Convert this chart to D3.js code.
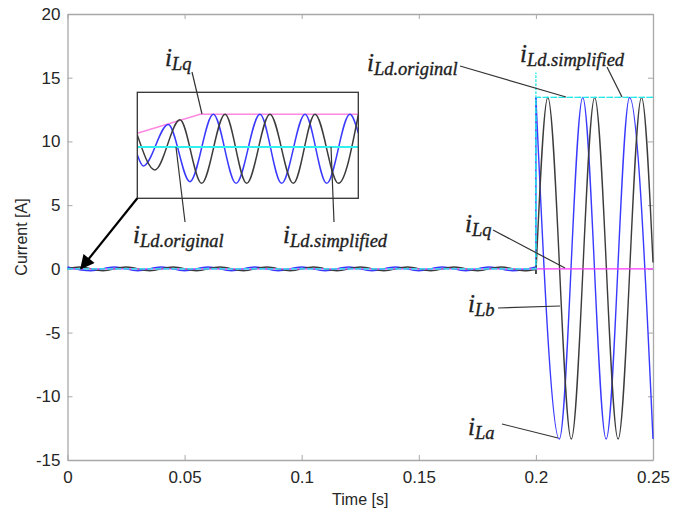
<!DOCTYPE html>
<html><head><meta charset="utf-8">
<script src="https://cdn.jsdelivr.net/npm/d3@7"></script>
<style>body{margin:0;background:#fff}</style>
</head><body><svg id="c" width="673" height="516"></svg>
<script>
// ---------- data ----------
const xTicks=[0,0.05,0.1,0.15,0.2,0.25];
const xTickLabels=["0","0.05","0.1","0.15","0.2","0.25"];
const yTicks=[-15,-10,-5,0,5,10,15,20];
const yTickLabels=["-15","-10","-5","0","5","10","15","20"];

// i_La (blue): small ripple before the step (extrema), then large wave
const aPreT=[0,0.01,0.02,0.03,0.04,0.05,0.06,0.07,0.08,0.09,0.10,0.11,0.12,0.13,0.14,0.15,0.16,0.17,0.18,0.19,0.2];
const aPreV=[0.15,-0.15,0.15,-0.15,0.15,-0.15,0.15,-0.15,0.15,-0.15,0.15,-0.15,0.15,-0.15,0.15,-0.15,0.15,-0.15,0.15,-0.15,0.15];
const aPostT=[0.2,0.21,0.22,0.23,0.24,0.25];
const aPostV=[13.45,-13.35,13.45,-13.35,13.45,-13.35];
// i_Lb (black)
const bPreT=[0,0.0051,0.0151,0.0251,0.0351,0.0451,0.0551,0.0651,0.0751,0.0851,0.0951,0.1051,0.1151,0.1251,0.1351,0.1451,0.1551,0.1651,0.1751,0.1851,0.1951,0.2];
const bPreV=[0,0.15,-0.15,0.15,-0.15,0.15,-0.15,0.15,-0.15,0.15,-0.15,0.15,-0.15,0.15,-0.15,0.15,-0.15,0.15,-0.15,0.15,-0.15,-0.05];
const bPostT=[0.2,0.2051,0.2151,0.2251,0.2351,0.2451,0.25];
const bPostV=[-0.4,13.45,-13.35,13.45,-13.35,13.45,0.5];
// i_Lq (magenta)
const qT=[0,0.2,0.25];
const qV=[0,0,0];
// i_Ld.original / i_Ld.simplified (cyan step)
const dOrigT=[0,0.2,0.2,0.2,0.25];
const dOrigV=[0,0,15.4,13.45,13.45];
const dSimpT=[0,0.2,0.2,0.25];
const dSimpV=[0,0,13.45,13.45];

// inset (zoomed view, arbitrary units)
const inAT=[0,2.7,14.0,23.8,34.4,44.7,55.5,65.3,75.9,85.7,96.2,100];
const inAV=[-0.24,-0.58,0.69,-1.06,1.0,-1.11,1.0,-1.11,1.0,-1.11,1.0,0.43];
const inBT=[0,8.0,19.3,29.1,39.7,49.5,60.0,70.6,80.4,91.0,100];
const inBV=[0.37,-0.70,0.83,-1.11,1.0,-1.11,1.0,-1.11,1.0,-1.11,0.98];
const inQT=[0,28.4,100];
const inQV=[0.42,1.0,1.0];
const inDT=[0,100];
const inDV=[0,0];

// ---------- drawing ----------
const svg=d3.select("#c");
const X0=67.5,X1=653,Y0=14,Y1=460;
const x=d3.scaleLinear().domain([0,0.25]).range([X0,X1]);
const y=d3.scaleLinear().domain([-15,20]).range([Y1,Y0]);
const zip=(T,V)=>T.map((t,i)=>[t,V[i]]);

const axisCol="#a8a8a8", txtCol="#262626";
const font="'Liberation Sans', Arial, sans-serif";

// axes box
const gx=svg.append("g").attr("transform",`translate(0,${Y1})`)
 .call(d3.axisBottom(x).tickValues(xTicks).tickFormat((d,i)=>xTickLabels[i]).tickSizeInner(-5).tickSizeOuter(0).tickPadding(11));
const gxt=svg.append("g").attr("transform",`translate(0,${Y0})`)
 .call(d3.axisTop(x).tickValues(xTicks).tickFormat("").tickSizeInner(-5).tickSizeOuter(0));
const gy=svg.append("g").attr("transform",`translate(${X0},0)`)
 .call(d3.axisLeft(y).tickValues(yTicks).tickFormat((d,i)=>yTickLabels[i]).tickSizeInner(-5).tickSizeOuter(0).tickPadding(7));
const gyr=svg.append("g").attr("transform",`translate(${X1},0)`)
 .call(d3.axisRight(y).tickValues(yTicks).tickFormat("").tickSizeInner(-5).tickSizeOuter(0));
[gx,gxt,gy,gyr].forEach(g=>{
  g.selectAll(".domain").attr("stroke",axisCol).attr("stroke-width",1.3);
  g.selectAll(".tick line").attr("stroke",axisCol).attr("stroke-width",1);
  g.selectAll(".tick text").attr("fill",txtCol).attr("font-size",17).attr("font-family",font);
});

svg.append("text").attr("x",(X0+X1)/2).attr("y",505).attr("text-anchor","middle")
 .attr("font-family",font).attr("font-size",16).attr("fill",txtCol).text("Time [s]");
svg.append("text").attr("transform",`translate(27,${(Y0+Y1)/2}) rotate(-90)`).attr("text-anchor","middle")
 .attr("font-family",font).attr("font-size",16).attr("fill",txtCol).text("Current [A]");

const lineM=d3.line().x(d=>x(d[0])).y(d=>y(d[1])).curve(d3.curveMonotoneX);
const lineL=d3.line().x(d=>x(d[0])).y(d=>y(d[1]));

const blue="#3a3aff", black="#3c3c3c", pink="#ff33ff", cyan="#22e8e8";
function wave(preT,preV,postT,postV,col){
  const pre=zip(preT,preV), post=zip(postT,postV);
  svg.append("path").attr("d",lineM(pre)).attr("fill","none").attr("stroke",col).attr("stroke-width",1.4);
  svg.append("path").attr("d",lineL([pre[pre.length-1],post[0]])).attr("fill","none").attr("stroke",col).attr("stroke-width",1.4);
  svg.append("path").attr("d",lineM(post)).attr("fill","none").attr("stroke",col).attr("stroke-width",1.4);
}
wave(aPreT,aPreV,aPostT,aPostV,blue);
wave(bPreT,bPreV,bPostT,bPostV,black);
svg.append("path").attr("d",lineL(zip(qT,qV))).attr("fill","none").attr("stroke",pink).attr("stroke-width",1.1);
svg.append("path").attr("d",lineL(zip(dOrigT,dOrigV))).attr("fill","none").attr("stroke",cyan).attr("stroke-width",1.3).attr("stroke-dasharray","2,2");
svg.append("path").attr("d",lineL(zip(dSimpT,dSimpV))).attr("fill","none").attr("stroke",cyan).attr("stroke-width",1.3).attr("stroke-dasharray","5,3");

// inset
const IX0=137.3,IX1=358.3,IY0=92.3,IY1=198.3;
const ix=d3.scaleLinear().domain([0,100]).range([IX0,IX1]);
const iy=d3.scaleLinear().domain([-1.569,1.673]).range([IY1,IY0]);
const ilM=d3.line().x(d=>ix(d[0])).y(d=>iy(d[1])).curve(d3.curveMonotoneX);
const ilL=d3.line().x(d=>ix(d[0])).y(d=>iy(d[1]));
svg.append("clipPath").attr("id","ic").append("rect").attr("x",IX0).attr("y",IY0).attr("width",IX1-IX0).attr("height",IY1-IY0);
svg.append("rect").attr("x",IX0).attr("y",IY0).attr("width",IX1-IX0).attr("height",IY1-IY0).attr("fill","#fff");
const ig=svg.append("g").attr("clip-path","url(#ic)");
ig.append("path").attr("d",ilL(zip(inQT,inQV))).attr("fill","none").attr("stroke","#ff88e0").attr("stroke-width",1.6);
ig.append("path").attr("d",ilM(zip(inAT,inAV))).attr("fill","none").attr("stroke",blue).attr("stroke-width",1.5);
ig.append("path").attr("d",ilM(zip(inBT,inBV))).attr("fill","none").attr("stroke",black).attr("stroke-width",1.5);
ig.append("path").attr("d",ilL(zip(inDT,inDV))).attr("fill","none").attr("stroke","#33f0f0").attr("stroke-width",1.8);
svg.append("rect").attr("x",IX0).attr("y",IY0).attr("width",IX1-IX0).attr("height",IY1-IY0).attr("fill","none").attr("stroke","#333").attr("stroke-width",1.3);

// arrow from inset corner to origin region
svg.append("defs").append("marker").attr("id","ah").attr("viewBox","0 0 10 10").attr("refX",9).attr("refY",5)
 .attr("markerWidth",7).attr("markerHeight",6.5).attr("orient","auto").attr("markerUnits","strokeWidth")
 .append("path").attr("d","M0,0L10,5L0,10Z").attr("fill","#000");
svg.append("line").attr("x1",IX0).attr("y1",IY1).attr("x2",81).attr("y2",268.5).attr("stroke","#000").attr("stroke-width",2.2).attr("marker-end","url(#ah)");

// annotations
const serif="'Liberation Serif','Times New Roman',serif";
const notes=[
 {sub:"Lq",x:165,y:66,l:[192,72,202,114]},
 {sub:"Ld.original",x:133,y:243,l:[176,147,185,222]},
 {sub:"Ld.simplified",x:283,y:243,l:[331,147,334,222]},
 {sub:"Ld.original",x:367,y:71,l:[460,66,566,97]},
 {sub:"Ld.simplified",x:520,y:62,l:[607,67,622,97]},
 {sub:"Lq",x:465,y:232,l:[493,230,565,268]},
 {sub:"Lb",x:468,y:312,l:[498,308,560,306]},
 {sub:"La",x:468,y:435,l:[502,424,558,438]}
];
notes.forEach(n=>{
  svg.append("line").attr("x1",n.l[0]).attr("y1",n.l[1]).attr("x2",n.l[2]).attr("y2",n.l[3]).attr("stroke","#333").attr("stroke-width",1.2);
  const t=svg.append("text").attr("x",n.x).attr("y",n.y).attr("font-family",serif).attr("font-style","italic")
    .attr("fill","#222").attr("stroke","#222").attr("stroke-width",0.35);
  t.append("tspan").attr("font-size",25).text("i");
  t.append("tspan").attr("font-size",18.5).attr("dy",4).text(n.sub);
});
</script></body></html>
